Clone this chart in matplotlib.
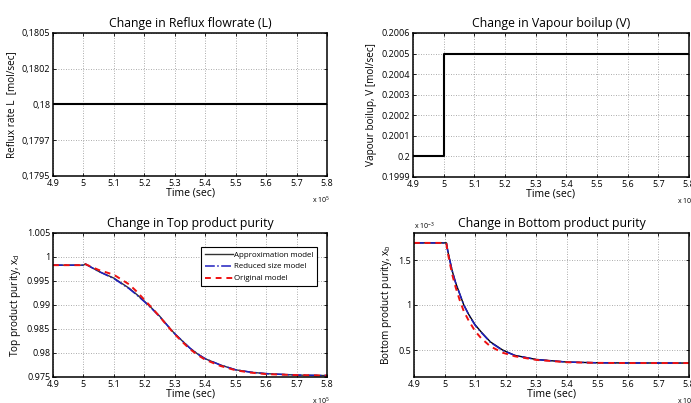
import matplotlib.pyplot as plt
from matplotlib.ticker import FixedLocator

plt.rcParams['font.family'] = ['Open Sans', 'DejaVu Sans']
plt.rcParams['mathtext.fontset'] = 'custom'
plt.rcParams['mathtext.rm'] = 'Open Sans'

W, H = 691, 403

# ---------------- data (time in 1e5 s) ----------------
t_reflux = [4.9, 5.8]
reflux = [0.18, 0.18]

t_boil = [4.9, 5.0, 5.0, 5.8]
boilup = [0.2, 0.2, 0.2005, 0.2005]

t_top = [4.9, 5.0, 5.0065, 5.05, 5.1, 5.15, 5.175, 5.2, 5.225, 5.25, 5.275, 5.3,
         5.325, 5.35, 5.375, 5.4, 5.45, 5.5, 5.55, 5.6, 5.7, 5.8]
top_approx = [0.9983, 0.9983, 0.99855, 0.9970, 0.9956, 0.9935, 0.9922, 0.9908,
              0.9893, 0.9877, 0.9858, 0.9840, 0.9825, 0.9810, 0.9798, 0.9788,
              0.9775, 0.9765, 0.9760, 0.9757, 0.9754, 0.9753]
top_reduced = [0.9983, 0.9983, 0.99852, 0.9970, 0.9955, 0.9934, 0.9921, 0.9907,
               0.9892, 0.9876, 0.9858, 0.9840, 0.9825, 0.9810, 0.9798, 0.9788,
               0.9775, 0.9765, 0.9760, 0.9757, 0.9754, 0.9753]
top_orig = [0.9983, 0.9983, 0.9985, 0.9973, 0.9963, 0.9943, 0.9928, 0.9911,
            0.9894, 0.9876, 0.9857, 0.9839, 0.9823, 0.9808, 0.9796, 0.9786,
            0.9773, 0.9764, 0.9759, 0.9756, 0.9754, 0.9753]

t_bot = [4.9, 5.0, 5.006, 5.01, 5.017, 5.025, 5.036, 5.05, 5.063, 5.08, 5.1,
         5.12, 5.15, 5.19, 5.23, 5.3, 5.4, 5.5, 5.6, 5.8]
bot_approx = [1.69, 1.69, 1.69, 1.61, 1.50, 1.38, 1.25, 1.12, 1.00, 0.89, 0.78,
              0.70, 0.59, 0.50, 0.44, 0.395, 0.366, 0.358, 0.356, 0.355]
bot_reduced = [1.69, 1.69, 1.69, 1.61, 1.50, 1.38, 1.25, 1.12, 1.00, 0.885, 0.775,
               0.695, 0.585, 0.495, 0.44, 0.394, 0.366, 0.358, 0.356, 0.355]
bot_orig = [1.69, 1.69, 1.68, 1.59, 1.47, 1.34, 1.20, 1.05, 0.93, 0.82, 0.71,
            0.63, 0.54, 0.47, 0.43, 0.39, 0.364, 0.357, 0.355, 0.355]

x_ticks = [4.9, 5.0, 5.1, 5.2, 5.3, 5.4, 5.5, 5.6, 5.7, 5.8]
x_labels = ['4.9', '5', '5.1', '5.2', '5.3', '5.4', '5.5', '5.6', '5.7', '5.8']

fig = plt.figure(figsize=(W / 100, H / 100), dpi=100)


def make_ax(left, right, top, bottom):
    ax = fig.add_axes([left / W, 1 - bottom / H, (right - left) / W, (bottom - top) / H])
    ax.set_xlim(4.9, 5.8)
    ax.xaxis.set_major_locator(FixedLocator(x_ticks))
    ax.set_xticklabels(x_labels)
    ax.tick_params(direction='in', length=2.5, width=0.6, labelsize=6.5, pad=2,
                   top=True, right=True, colors='black')
    ax.grid(True, linestyle=(0, (1, 2)), linewidth=0.6, color='#909090')
    for s in ax.spines.values():
        s.set_linewidth(1.1)
    ax.set_xlabel('Time (sec)', fontsize=7.6, labelpad=0)
    return ax


def x10(ax, text, x):
    ax.text(x, -0.13, text, transform=ax.transAxes, fontsize=5, ha='left', va='top')


# --- Reflux ---
ax1 = make_ax(53, 327, 33, 176)
ax1.plot(t_reflux, reflux, color='black', linewidth=1.5)
ax1.set_ylim(0.1795, 0.1805)
ax1.yaxis.set_major_locator(FixedLocator([0.1795, 0.17975, 0.18, 0.18025, 0.1805]))
ax1.set_yticklabels(['0,1795', '0,1797', '0,18', '0,1802', '0,1805'])
ax1.set_title('Change in Reflux flowrate (L)', fontsize=8.8, pad=4)
ax1.set_ylabel('Reflux rate L  [mol/sec]', fontsize=7.2, labelpad=3)
x10(ax1, r'x 10$^{5}$', 0.945)

# --- Vapour boilup ---
ax2 = make_ax(413, 689, 33, 177)
ax2.plot(t_boil, boilup, color='black', linewidth=1.5)
ax2.set_ylim(0.1999, 0.2006)
ax2.yaxis.set_major_locator(FixedLocator([0.1999, 0.2, 0.2001, 0.2002, 0.2003,
                                          0.2004, 0.2005, 0.2006]))
ax2.set_yticklabels(['0.1999', '0.2', '0.2001', '0.2002', '0.2003', '0.2004',
                     '0.2005', '0.2006'])
ax2.set_title('Change in Vapour boilup (V)', fontsize=8.8, pad=4)
ax2.set_ylabel('Vapour boilup, V [mol/sec]', fontsize=7.2, labelpad=3)
x10(ax2, r'x 10$^{5}$', 0.955)

# --- Top product ---
ax3 = make_ax(53, 327, 233, 377)
ax3.plot(t_top, top_approx, color='#333333', linewidth=1.0, label='Approximation model')
ax3.plot(t_top, top_reduced, color='#1f1fbf', linewidth=1.1, linestyle='-.',
         label='Reduced size model')
ax3.plot(t_top, top_orig, color='#ee1111', linewidth=1.4, linestyle=(0, (3, 2.5)),
         label='Original model')
ax3.set_ylim(0.975, 1.005)
ax3.yaxis.set_major_locator(FixedLocator([0.975, 0.98, 0.985, 0.99, 0.995, 1.0, 1.005]))
ax3.set_yticklabels(['0.975', '0.98', '0.985', '0.99', '0.995', '1', '1.005'])
ax3.set_title('Change in Top product purity', fontsize=8.8, pad=4)
ax3.set_ylabel(r'Top product purity, x$_{\rm d}$', fontsize=7.2, labelpad=3)
x10(ax3, r'x 10$^{5}$', 0.945)
leg = ax3.legend(loc='upper right', bbox_to_anchor=(0.965, 0.9), fontsize=5.7,
                 frameon=True, fancybox=False, edgecolor='black', framealpha=1,
                 handlelength=3.6, handletextpad=0.15, borderpad=0.45, labelspacing=0.55,
                 borderaxespad=0)
leg.get_frame().set_linewidth(0.8)

# --- Bottom product ---
ax4 = make_ax(414, 689, 233, 377)
ax4.plot(t_bot, bot_approx, color='black', linewidth=1.0)
ax4.plot(t_bot, bot_reduced, color='#1f1fbf', linewidth=1.1, linestyle='-.')
ax4.plot(t_bot, bot_orig, color='#ee1111', linewidth=1.4, linestyle=(0, (3, 2.5)))
ax4.set_ylim(0.2, 1.8)
ax4.yaxis.set_major_locator(FixedLocator([0.5, 1.0, 1.5]))
ax4.set_yticklabels(['0.5', '1', '1.5'])
ax4.set_title('Change in Bottom product purity', fontsize=8.8, pad=4)
ax4.set_ylabel(r'Bottom product purity, x$_{\rm b}$', fontsize=7.2, labelpad=3)
x10(ax4, r'x 10$^{5}$', 0.955)
ax4.text(0.0, 1.005, r'x 10$^{-3}$', transform=ax4.transAxes, fontsize=5,
         ha='left', va='bottom')

fig.savefig('out.png', dpi=100, facecolor='white')
